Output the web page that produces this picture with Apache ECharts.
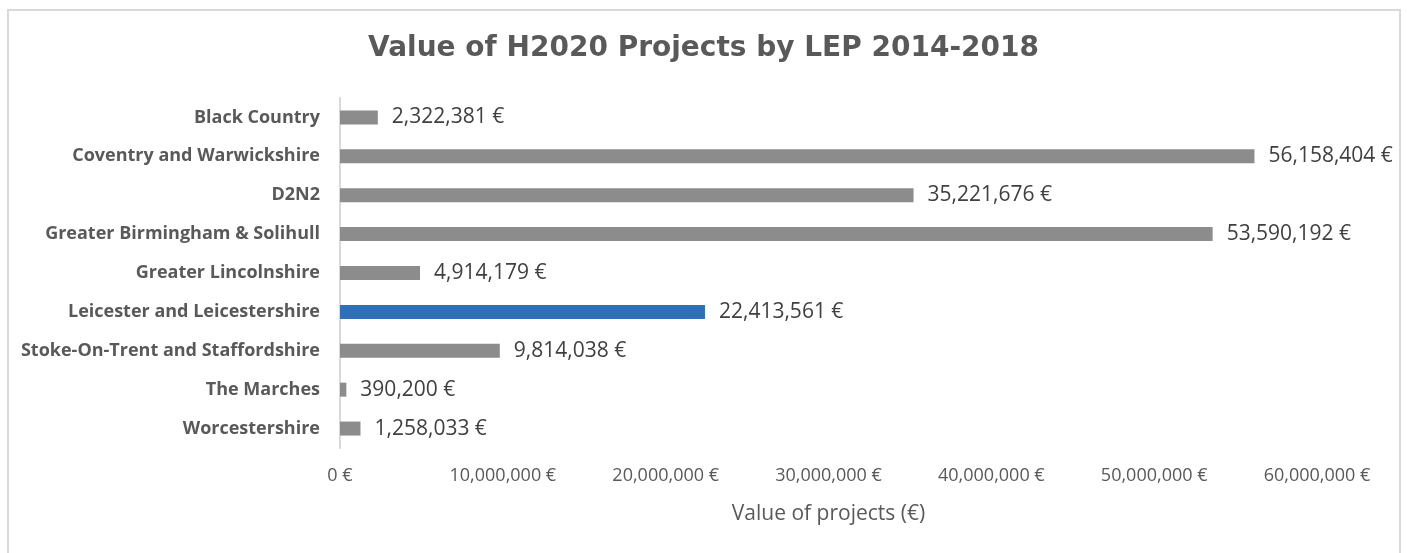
<!DOCTYPE html>
<html>
<head>
<meta charset="utf-8">
<script src="https://cdn.jsdelivr.net/npm/echarts@6/dist/echarts.min.js"></script>
<style>
  html, body { margin: 0; padding: 0; background: #fff; }
  #frame { position: absolute; left: 7px; top: 9px; width: 1394px; height: 560px; border: 2px solid #d9d9d9; box-sizing: border-box; }
  #chart { position: absolute; left: 0; top: 0; width: 1407px; height: 553px; }
</style>
</head>
<body>
<div id="frame"></div>
<div id="chart"></div>
<script>
// LEP names, top to bottom
const regions = [
  "Black Country",
  "Coventry and Warwickshire",
  "D2N2",
  "Greater Birmingham & Solihull",
  "Greater Lincolnshire",
  "Leicester and Leicestershire",
  "Stoke-On-Trent and Staffordshire",
  "The Marches",
  "Worcestershire",
];
const projectValues = [
  2322381, 56158404, 35221676, 53590192, 4914179,
  22413561, 9814038, 390200, 1258033,
];
const highlighted = "Leicester and Leicestershire";

function euro(v) {
  return v.toLocaleString("en-US") + " €";
}

let chart = echarts.init(document.getElementById("chart"));

let option = {
  animation: false,
  title: {
    text: "Value of H2020 Projects by LEP 2014-2018",
    left: "center",
    top: 30,
    textStyle: {
      fontFamily: "DejaVu Sans",
      fontWeight: "bold",
      fontSize: 28,
      color: "#595959",
    },
  },
  grid: { left: 340, right: 90, top: 98, bottom: 105 },
  xAxis: {
    type: "value",
    min: 0,
    max: 60000000,
    interval: 10000000,
    name: "Value of projects (€)",
    nameLocation: "middle",
    nameGap: 56,
    nameTextStyle: { fontFamily: "Open Sans", fontSize: 21, color: "#595959" },
    axisLine: { show: false },
    axisTick: { show: false },
    splitLine: { show: false },
    axisLabel: {
      margin: 19,
      fontFamily: "Open Sans",
      fontSize: 18,
      color: "#595959",
      formatter: euro,
    },
  },
  yAxis: {
    type: "category",
    inverse: true,
    data: regions,
    axisLine: { show: true, lineStyle: { color: "#d9d9d9", width: 2 } },
    axisTick: { show: false },
    axisLabel: {
      margin: 20,
      fontFamily: "Open Sans",
      fontWeight: "bold",
      fontSize: 18,
      color: "#595959",
    },
  },
  series: [
    {
      type: "bar",
      barWidth: 14,
      data: projectValues.map((v, i) => ({
        value: v,
        itemStyle: { color: regions[i] === highlighted ? "#2e6fb7" : "#8c8c8c" },
      })),
      label: {
        show: true,
        position: "right",
        distance: 14,
        fontFamily: "Open Sans",
        fontSize: 21,
        color: "#404040",
        formatter: (p) => euro(p.value),
      },
    },
  ],
};

chart.setOption(option);
</script>
</body>
</html>
